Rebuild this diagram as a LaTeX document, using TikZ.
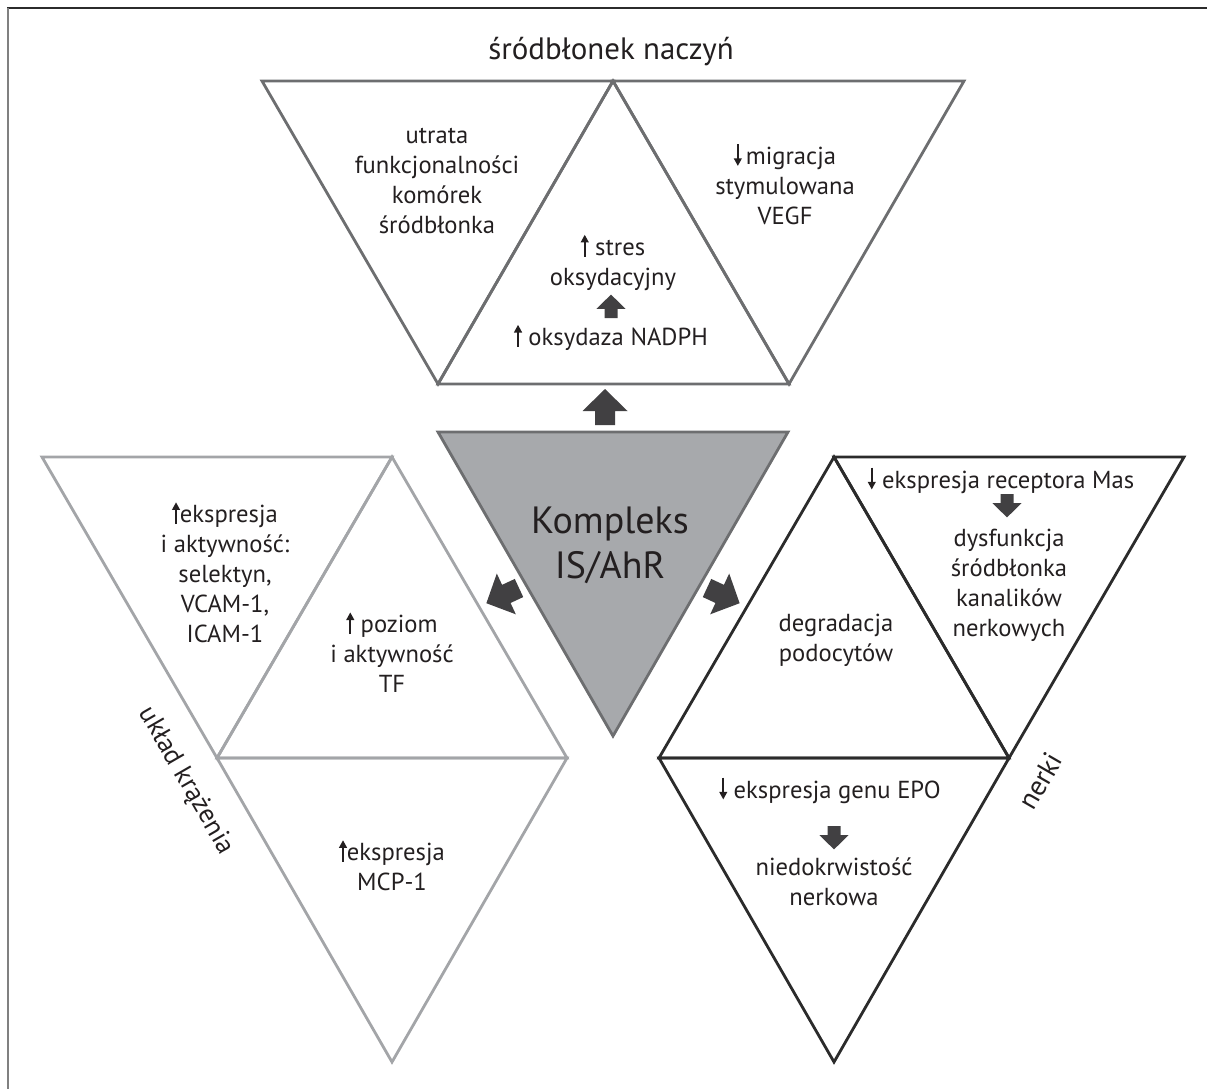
\documentclass[tikz,border=0pt]{standalone}
\usepackage{fontspec}
\setmainfont{PT Sans}
\usetikzlibrary{arrows.meta}

\definecolor{tekst}{HTML}{231F20}
\definecolor{szaryGora}{HTML}{6D6E70}
\definecolor{szaryLewy}{HTML}{A3A5A8}
\definecolor{szaryPrawy}{HTML}{2B2B2B}
\definecolor{szaryRdzen}{HTML}{A7A9AC}
\definecolor{strzalka}{HTML}{414042}

% small thin arrows inside the texts
\newcommand{\wzrost}{\tikz[baseline=0pt]\draw[draw=tekst,line width=1.4pt,-{Triangle[length=5.5pt,width=5.5pt]}] (0,-1pt) -- (0,14.5pt);}
\newcommand{\spadek}{\tikz[baseline=0pt]\draw[draw=tekst,line width=1.4pt,-{Triangle[length=5.5pt,width=5.5pt]}] (0,14.5pt) -- (0,-1pt);}

\tikzset{
  txt/.style={align=center, text=tekst, inner sep=0pt, font=\fontsize{17.5}{21.3}\selectfont},
  naglowek/.style={txt, font=\fontsize{19}{22}\selectfont},
  tri/.style={line width=2pt, line join=miter},
  fatarrow/.pic={\fill[strzalka] (-10,0) -- (-10,-14) -- (-22.5,-14) -- (0,-36) -- (22.5,-14) -- (10,-14) -- (10,0) -- cycle;}
}

\begin{document}
\begin{tikzpicture}[x=0.025cm, y=-0.025cm]
	\useasboundingbox (0,0) rectangle (1207,1089);
	% frame
	\draw[line width=1.4pt, color=szaryPrawy] (7,8) -- (1207,8);
	\draw[line width=1.4pt, color=gray] (8,8) -- (8,1089);
	
	% srodblonek
	\draw[tri, szaryGora] (262,81) -- (613,81) -- (438,384) -- cycle;
	\draw[tri, szaryGora] (613,81) -- (964,81) -- (789,384) -- cycle;
	\draw[tri, szaryGora] (438,384) -- (613,81) -- (789,384) -- cycle;
	
	% kompleks
	\draw[line width=2pt, fill=szaryRdzen, draw=szaryGora] (438,432) -- (788,432) -- (613,736) -- cycle;
	
	% uklad krazenia
	\draw[tri, szaryLewy] (42,457) -- (392,457) -- (217,758) -- cycle;
	\draw[tri, szaryLewy] (217,758) -- (392,457) -- (567,758) -- cycle;
	\draw[tri, szaryLewy] (217,758) -- (567,758) -- (392,1062) -- cycle;
	
	% nerki
	\draw[tri, szaryPrawy] (659,758) -- (834,457) -- (1009,758) -- cycle;
	\draw[tri, szaryPrawy] (834,457) -- (1184,457) -- (1009,758) -- cycle;
	\draw[tri, szaryPrawy] (659,758) -- (1009,758) -- (834,1062) -- cycle;
	
	% labels
	\node[naglowek, font=\fontsize{22}{24}\selectfont] (tytul) at (611,52) {śródbłonek naczyń};
	\node[txt] (utrata) at (437,181) {utrata\\funkcjonalności\\komórek\\śródbłonka};
	\node[txt] (stres) at (613,262) {\wzrost\ stres\\oksydacyjny};
	\node[txt] (nadph) at (611,337) {\wzrost\ oksydaza NADPH};
	\node[txt] (vegf) at (785,184) {\spadek\,migracja\\stymulowana\\VEGF};
	
	\node[txt, font=\fontsize{27}{32}\selectfont] (kompleks) at (610,545) {Kompleks\\IS/AhR};
	
	\node[txt] (selektyn) at (225,572) {\wzrost ekspresja\\i aktywność:\\selektyn,\\VCAM-1,\\ICAM-1};
	\node[txt] (tf) at (392,652) {\wzrost\ poziom\\i aktywność\\TF};
	\node[txt] (mcp) at (392,865) {\wzrost ekspresja\\MCP-1};
	\node[naglowek, rotate=-60] (uklad) at (186,781) {układ krążenia};
	
	\node[txt] (podocyty) at (836,640) {degradacja\\podocytów};
	\node[txt] (mas) at (1001,480) {\spadek\ ekspresja receptora Mas};
	\node[txt] (dysfunkcja) at (1009,585) {dysfunkcja\\śródbłonka\\kanalików\\nerkowych};
	\node[txt] (epo) at (830,790) {\spadek\ ekspresja genu EPO};
	\node[txt] (anemia) at (834,882) {niedokrwistość\\nerkowa};
	\node[naglowek, font=\fontsize{20}{22}\selectfont, rotate=60] (nerki) at (1040,781) {nerki};
	
	% thick arrows
	\pic at (605,425) {fatarrow};
	\pic[rotate=115] at (519,588) {fatarrow};
	\pic[rotate=-115] at (707,588) {fatarrow};
	\pic[scale=0.65] at (611,318) {fatarrow};
	\pic[scale=0.65, rotate=180] at (1007,494) {fatarrow};
	\pic[scale=0.65, rotate=180] at (834,826) {fatarrow};
\end{tikzpicture}
\end{document}
